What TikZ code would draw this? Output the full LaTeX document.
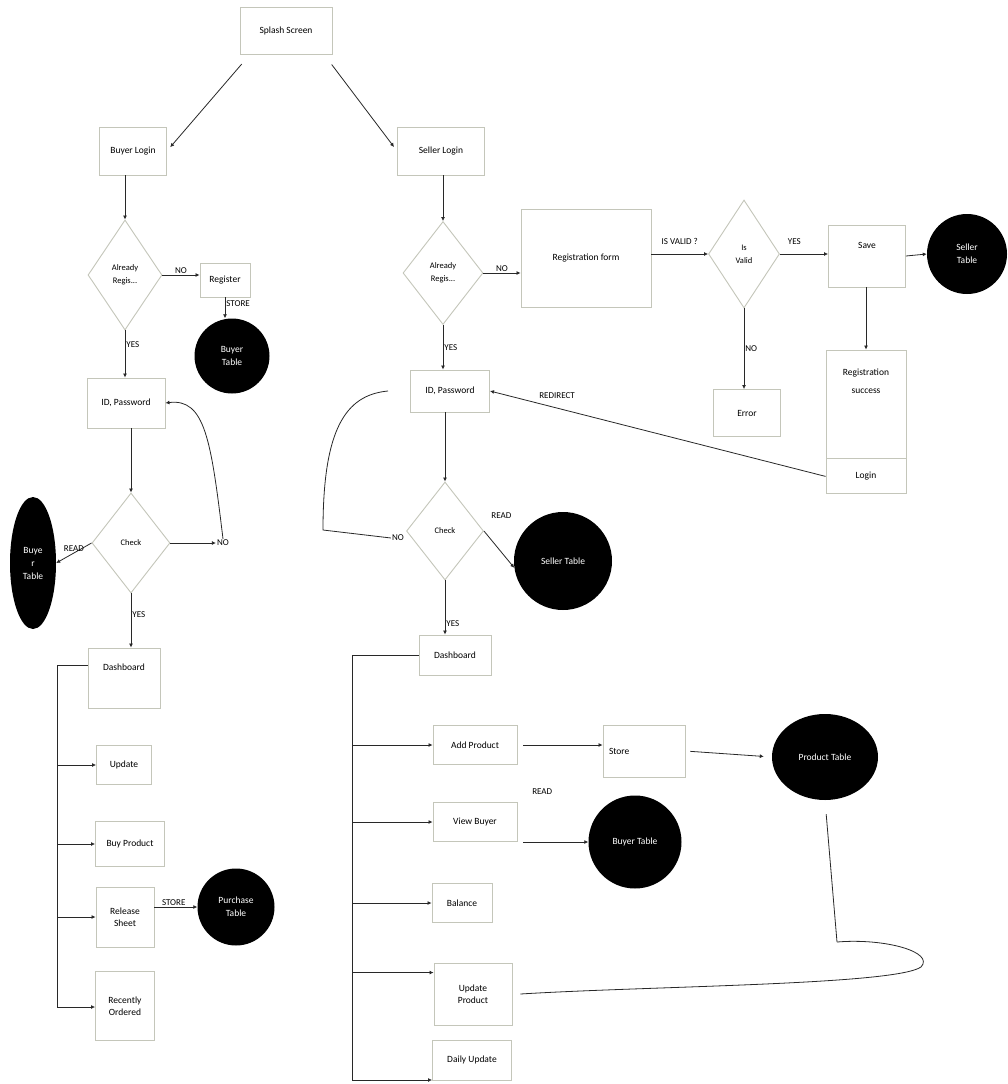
\documentclass[tikz,border=0pt]{standalone}
\usepackage{fontspec}
\setmainfont{Carlito}
\usetikzlibrary{shapes.geometric,arrows.meta,calc}

\definecolor{boxline}{RGB}{196,198,186}
\definecolor{wire}{RGB}{40,40,40}

\tikzset{
  box/.style={draw=boxline, line width=0.9pt, fill=white, align=center,
    inner sep=2pt, font=\fontsize{9.5}{12}\selectfont},
  choice/.style={diamond, draw=boxline, line width=0.9pt, fill=white, align=center,
    inner sep=0pt, font=\fontsize{8.5}{13}\selectfont},
  dbtable/.style={fill=black, text=white, align=center, inner sep=0pt,
    font=\fontsize{9.5}{13}\selectfont},
  arr/.style={draw=wire, line width=0.8pt, -{Latex[length=4pt,width=4pt]}},
  wireline/.style={draw=wire, line width=0.8pt},
  lbl/.style={font=\fontsize{9}{10}\selectfont, inner sep=1pt}
}

\begin{document}
\begin{tikzpicture}[x=1pt,y=-1pt]
\useasboundingbox[fill=white] (0,0) rectangle (1007,1084);

% ---------- top ----------
\node[box, minimum width=92, minimum height=47] (splash) at (286,31) {Splash Screen};
\node[box, minimum width=67, minimum height=48] (blogin) at (133,151) {Buyer Login};
\node[box, minimum width=87, minimum height=48] (slogin) at (441,151) {Seller Login};

% ---------- buyer side ----------
\node[choice, minimum width=74, minimum height=110] (breg) at (125,275) {Already\\Regis...};
\node[box, minimum width=50, minimum height=34] (register) at (225,280) {Register};
\node[dbtable, circle, minimum size=75] (bstore) at (232,356) {Buyer\\Table};
\node[box, minimum width=78, minimum height=50] (bid) at (126,403) {ID, Password};
\node[choice, minimum width=78, minimum height=100] (bcheck) at (131,543) {Check};
\node[lbl] (bno) at (223,543) {NO};
\node[dbtable, ellipse, minimum width=46, minimum height=132] (btable) at (33,563) {Buye\\r\\Table};
\node[box, minimum width=72, minimum height=60] (bdash) at (124,678) {Dashboard\\[10pt]};
\node[box, minimum width=55, minimum height=39] (bupd) at (124,765) {Update};
\node[box, minimum width=69, minimum height=45] (bbuy) at (130,844) {Buy Product};
\node[box, minimum width=58, minimum height=60] (brel) at (125,917) {Release\\Sheet};
\node[box, minimum width=59, minimum height=69] (brec) at (125,1006) {Recently\\Ordered};
\node[dbtable, circle, minimum size=77] (purch) at (236,907) {Purchase\\Table};

% ---------- seller side ----------
\node[choice, minimum width=80, minimum height=103] (sreg) at (443,273) {Already\\Regis...};
\node[box, minimum width=130, minimum height=98] (regform) at (586,258) {Registration form};
\node[choice, minimum width=71, minimum height=108] (valid) at (744,254) {Is\\Valid};
\node[box, minimum width=77, minimum height=62] (save) at (867,256) {Save\\[10pt]};
\node[dbtable, circle, minimum size=80] (stable1) at (967,254) {Seller\\Table};
\node[box, minimum width=67, minimum height=47] (error) at (747,413) {Error};
\node[box, minimum width=80, minimum height=108] (regok) at (866,404) {Registration\\[6pt]success\\[34pt]};
\node[box, minimum width=80, minimum height=35, anchor=north] (login) at (regok.south) {Login};
\node[box, minimum width=79, minimum height=42] (sid) at (450,391) {ID, Password};
\node[choice, minimum width=77, minimum height=98] (scheck) at (445,531) {Check};
\node[lbl] (sno) at (398,538) {NO};
\node[dbtable, circle, minimum size=98] (stable2) at (563,561) {Seller Table};
\node[box, minimum width=72, minimum height=40] (sdash) at (455,655) {Dashboard};
\node[box, minimum width=84, minimum height=39] (addp) at (475,745) {Add Product};
\node[box, minimum width=82, minimum height=52, text width=70, align=left] (store) at (644,751) {Store\\[8pt]};
\node[dbtable, ellipse, minimum width=106, minimum height=86] (prod) at (825,757) {Product Table};
\node[box, minimum width=84, minimum height=39] (viewb) at (475,822) {View Buyer};
\node[dbtable, circle, minimum size=93] (buyt) at (635,842) {Buyer Table};
\node[box, minimum width=60, minimum height=39] (bal) at (462,903) {Balance};
\node[box, minimum width=78, minimum height=62] (updp) at (473,994) {Update\\Product};
\node[box, minimum width=79, minimum height=40] (daily) at (472,1060) {Daily Update};

% ---------- connectors: top ----------
\draw[arr, shorten <=12pt, shorten >=5pt] ([xshift=10pt]splash.south west) -- (blogin.east);
\draw[arr, shorten <=12pt, shorten >=5pt] ([xshift=-8pt]splash.south east) -- (slogin.west);

% ---------- connectors: buyer ----------
\draw[arr] (blogin.south -| breg.north) -- (breg.north);
\draw[arr] (breg.east) -- node[lbl, above] {NO} (breg.east -| register.west);
\draw[arr] (register.south) -- node[lbl, right, pos=0.3] {STORE} (register.south |- bstore.north);
\draw[arr] (breg.south) -- node[lbl, right, pos=0.3] {YES} (breg.south |- bid.north);
\draw[arr] (bno.north) .. controls (211,440) and (205,398) .. (bid.east);
\draw[arr] (bid.south -| bcheck.north) -- (bcheck.north);
\draw[arr] (bcheck.east) -- (bno.west);
\draw[arr] (bcheck.west) -- node[lbl, above] {READ} (btable.east);
\draw[arr] (bcheck.south) -- node[lbl, right, pos=0.4] {YES} (bcheck.south |- bdash.north);

\coordinate (bbusTop) at (57,665);
\coordinate (bbusBot) at (57,1007);
\draw[wireline] (bdash.west |- bbusTop) -- (bbusTop) -- (bbusBot);
\draw[arr] (bbusTop |- bupd) -- (bupd.west);
\draw[arr] (bbusTop |- bbuy) -- (bbuy.west);
\draw[arr] (bbusTop |- brel) -- (brel.west);
\draw[arr] (bbusBot) -- (bbusBot -| brec.west);
\draw[arr] (brel.east |- purch) -- node[lbl, above, pos=0.45] {STORE} (purch.west);

% ---------- connectors: seller ----------
\draw[arr] (slogin.south -| sreg.north) -- (sreg.north);
\draw[arr] (sreg.east) -- node[lbl, above] {NO} (sreg.east -| regform.west);
\draw[arr] (regform.east |- valid) -- node[lbl, above, yshift=8pt] {IS VALID ?} (valid.west);
\draw[arr] (valid.east) -- node[lbl, above, yshift=8pt, pos=0.3] {YES} (valid.east -| save.west);
\draw[arr] (save.east) -- (stable1.west);
\draw[arr] (save.south -| regok.north) -- (regok.north);
\draw[arr] (valid.south) -- node[lbl, right, pos=0.5] {NO} (valid.south |- error.north);
\draw[arr] (login.west) -- node[lbl, above, pos=0.8, yshift=8pt] {REDIRECT} (sid.east);
\draw[arr] (sreg.south) -- node[lbl, right, pos=0.5] {YES} (sreg.south |- sid.north);
\draw[arr] (sid.south -| scheck.north) -- (scheck.north);

\coordinate (sloopBend) at (323,530);
\coordinate (sloopTop) at (388,391);
\draw[wireline] (sno.west) -- (sloopBend) .. controls (323,430) and (345,395) .. (sloopTop);
\draw[arr] (scheck.east) -- node[lbl, above right, pos=0.2, yshift=18pt] {READ} (stable2.188);
\draw[arr] (scheck.south) -- node[lbl, right, pos=0.8] {YES} (scheck.south |- sdash.north);

\coordinate (sbusTop) at (352,655);
\coordinate (sbusBot) at (352,1080);
\draw[wireline] (sdash.west) -- (sbusTop) -- (sbusBot);
\draw[arr] (sbusTop |- addp) -- (addp.west);
\draw[arr] (sbusTop |- viewb) -- (viewb.west);
\draw[arr] (sbusTop |- bal) -- (bal.west);
\draw[arr] (sbusTop |- updp.north) ++(0,10) -- ([yshift=-10pt]updp.north west);
\draw[arr] (sbusBot) -- (sbusBot -| daily.west);

\draw[arr, shorten <=6pt] (addp.east) -- (addp.east -| store.west);
\draw[arr, shorten <=5pt, shorten >=8pt] (store.east) -- (prod.west);
\draw[arr, shorten <=6pt] (viewb.east |- buyt) -- node[lbl, above, pos=0.35, yshift=46pt] {READ} (buyt.west);

% Update Product feeds back into the product table
\coordinate (loopStart) at (837,942);
\draw[wireline, shorten <=14pt] (prod.south) -- (loopStart);
\draw[wireline] (loopStart) .. controls (885,938) and (935,952) .. (921,967)
  .. controls (895,985) and (650,986) .. ([xshift=8pt]updp.east);
\end{tikzpicture}
\end{document}
